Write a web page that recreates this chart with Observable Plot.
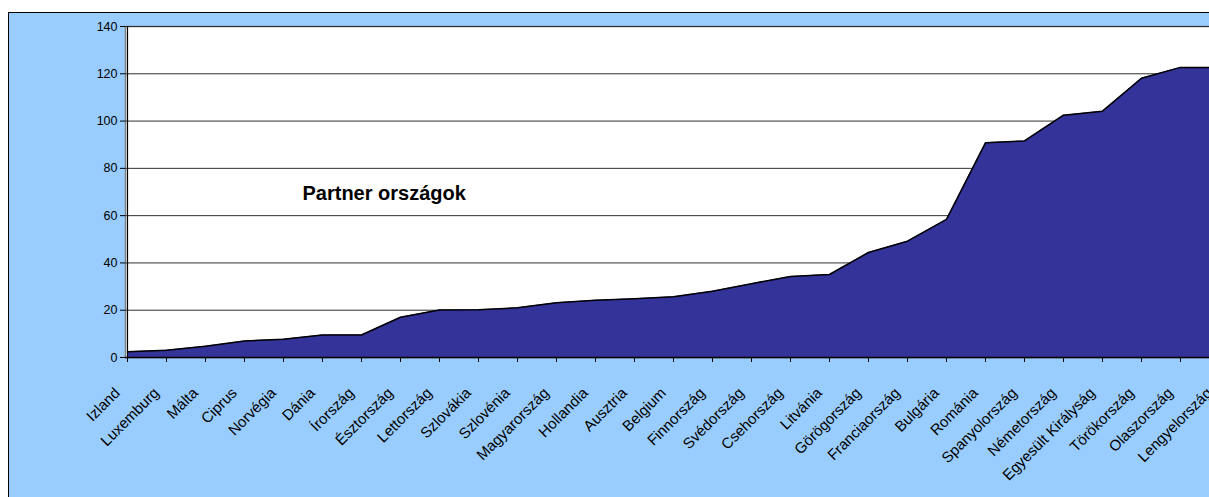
<!DOCTYPE html>
<html>
<head>
<meta charset="utf-8">
<script src="https://cdn.jsdelivr.net/npm/d3@7"></script>
<script src="https://cdn.jsdelivr.net/npm/@observablehq/plot@0.6"></script>
<style>
  html, body { margin: 0; padding: 0; width: 1209px; height: 497px; overflow: hidden; background: #ffffff; }
  #wrap { position: relative; width: 1209px; height: 497px; overflow: hidden; }
  #box { position: absolute; left: 8px; top: 12px; width: 1300px; height: 520px; background: #99CCFF; border-left: 1px solid #000; border-top: 1.5px solid #000; box-sizing: border-box; }
  #title { position: absolute; left: 122px; top: -22px; text-align: left; font: bold 18px "Liberation Serif", "Times New Roman", serif; color: #000; white-space: nowrap; }
  #chart { position: absolute; left: 0; top: 0; width: 1240px; height: 497px; }
  #chart svg { max-width: none !important; }
</style>
</head>
<body>
<div id="wrap">
  <div id="title">Hány szerződés egy partner országban</div>
  <div id="box"></div>
  <div id="chart"></div>
</div>
<script>
const countries = ["Izland","Luxemburg","Málta","Ciprus","Norvégia","Dánia","Írország","Észtország","Lettország","Szlovákia","Szlovénia","Magyarország","Hollandia","Ausztria","Belgium","Finnország","Svédország","Csehország","Litvánia","Görögország","Franciaország","Bulgária","Románia","Spanyolország","Németország","Egyesült Királyság","Törökország","Olaszország","Lengyelország"];
const values = [2.4,3.1,4.8,7.0,7.7,9.5,9.5,17.0,20.1,20.2,21.0,23.2,24.2,24.9,25.7,28.0,31.2,34.3,35.1,44.4,49.2,58.4,90.8,91.6,102.5,104.2,118.1,122.7,122.7];
const yTicks = [0,20,40,60,80,100,120,140];
const annotation = ["Partner országok"];

const data = countries.map((c, i) => ({country: c, value: values[i]}));

const chart = Plot.plot({
  width: 1240,
  height: 497,
  marginLeft: 125,
  marginRight: 20,
  marginTop: 26,
  marginBottom: 140,
  style: {background: "transparent", fontFamily: "'Liberation Sans', Arial, sans-serif", color: "#000", overflow: "visible", maxWidth: "none"},
  x: {type: "point", domain: countries, padding: 0, label: null},
  y: {domain: [0, 140], ticks: yTicks, label: null},
  marks: [
    Plot.frame({fill: "#ffffff", stroke: "#808080", strokeWidth: 1.5}),
    Plot.gridY(yTicks, {stroke: "#303030", strokeOpacity: 1, strokeWidth: 1}),
    Plot.areaY(data, {x: "country", y: "value", fill: "#333399"}),
    Plot.lineY(data, {x: "country", y: "value", stroke: "#000", strokeWidth: 1.5}),
    Plot.ruleY([0], {stroke: "#000", strokeWidth: 1.5}),
    Plot.ruleX([countries[0]], {stroke: "#000", strokeWidth: 1.2}),
    Plot.axisY(yTicks, {tickSize: 5, tickPadding: 3, fontSize: 12.5, stroke: "#000"}),
    Plot.axisX({tickSize: 5, tickFormat: () => "", stroke: "#000"}),
    Plot.axisX({tickSize: 0, tickRotate: -45, tickPadding: 33, dx: -10, fontSize: 15}),
    Plot.text(annotation, {text: d => d, frameAnchor: "top-left", dx: 177, dy: 167, textAnchor: "start", lineAnchor: "middle", fontSize: 20, fontWeight: "bold", fill: "#000"})
  ]
});
document.getElementById("chart").appendChild(chart);
</script>
</body>
</html>
